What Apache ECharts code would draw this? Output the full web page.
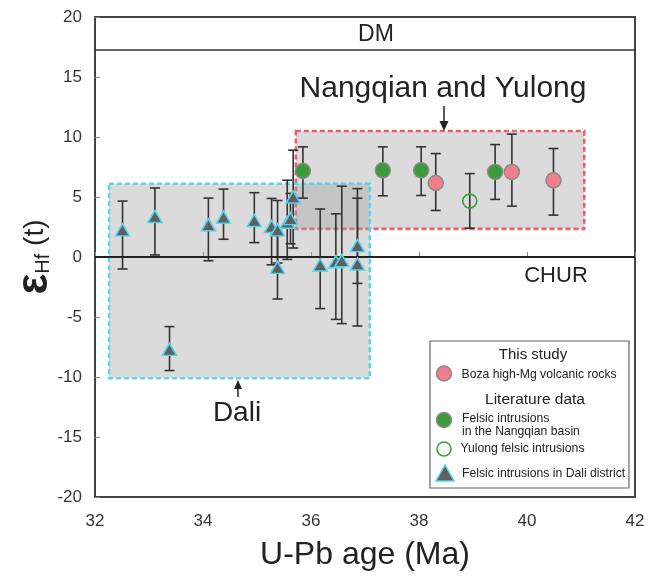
<!DOCTYPE html>
<html>
<head>
<meta charset="utf-8">
<script src="https://cdn.jsdelivr.net/npm/echarts@6/dist/echarts.min.js"></script>
<style>
  html, body { margin: 0; padding: 0; background: #fff; }
  #chart { width: 650px; height: 583px; }
</style>
</head>
<body>
<div id="chart"></div>
<script>
// Felsic intrusions in Dali district: age (Ma), εHf(t), lower and upper error limits
const daliAge = [32.51, 33.11, 33.38, 34.10, 34.38, 34.95, 35.27, 35.38, 35.38, 35.56, 35.62, 35.67, 36.17, 36.46, 36.57, 36.86, 36.86];
const daliEps = [2.26, 3.37, -7.7, 2.68, 3.32, 3.04, 2.54, 2.26, -0.86, 2.9, 3.2, 5.0, -0.67, -0.4, -0.3, 0.95, -0.58];
const daliLo  = [-1.0, 0.17, -9.46, -0.31, 1.48, 1.2, -0.65, -0.5, -3.5, -0.2, 1.1, 0.75, -4.3, -5.2, -5.55, -2.2, -5.75];
const daliHi  = [4.66, 5.75, -5.8, 4.91, 5.66, 5.36, 4.88, 4.71, 1.8, 6.4, 5.3, 8.9, 4.0, 3.6, 5.9, 4.9, 5.7];

// Felsic intrusions in the Nangqian basin
const nqAge = [35.85, 37.33, 38.04, 39.41];
const nqEps = [7.17, 7.22, 7.22, 7.09];
const nqLo  = [4.91, 5.1, 5.13, 4.8];
const nqHi  = [9.18, 9.18, 9.18, 9.37];

// Yulong felsic intrusions
const ylAge = [38.94];
const ylEps = [4.66];
const ylLo  = [2.4];
const ylHi  = [6.95];

// Boza high-Mg volcanic rocks (this study)
const bzAge = [38.31, 39.72, 40.49];
const bzEps = [6.17, 7.09, 6.39];
const bzLo  = [3.88, 4.24, 3.49];
const bzHi  = [8.62, 10.24, 9.04];

// Field outlines [ageMin, ageMax, epsMin, epsMax]
const fieldNangqianYulong = [35.72, 41.06, 2.34, 10.5];
const fieldDali = [32.26, 37.09, -10.1, 6.1];

// Reference lines
const dmLevel = 17.3;
const churLevel = 0;

// Axis ticks
const xTicks = [32, 34, 36, 38, 40, 42];
const yTicks = [-20, -15, -10, -5, 0, 5, 10, 15, 20];

const FONT = '"Liberation Sans", Arial, sans-serif';

const zip = (a, b) => a.map((v, i) => [v, b[i]]);
const zipErr = (a, lo, hi) => a.map((v, i) => [v, lo[i], hi[i]]);

function errorBars(name, ages, lo, hi) {
  return {
    type: 'custom',
    name: name + ' error',
    silent: true,
    z: 4,
    data: zipErr(ages, lo, hi),
    renderItem: function (params, api) {
      const x = api.value(0);
      const top = api.coord([x, api.value(2)]);
      const bot = api.coord([x, api.value(1)]);
      const cap = 5;
      const st = { stroke: '#333', lineWidth: 1.6 };
      return {
        type: 'group',
        children: [
          { type: 'line', shape: { x1: top[0], y1: top[1], x2: bot[0], y2: bot[1] }, style: st },
          { type: 'line', shape: { x1: top[0] - cap, y1: top[1], x2: top[0] + cap, y2: top[1] }, style: st },
          { type: 'line', shape: { x1: bot[0] - cap, y1: bot[1], x2: bot[0] + cap, y2: bot[1] }, style: st }
        ]
      };
    }
  };
}

function field(box, stroke, dash, z) {
  return {
    type: 'custom',
    silent: true,
    z: z,
    data: [box],
    renderItem: function (params, api) {
      const p0 = api.coord([api.value(0), api.value(3)]);
      const p1 = api.coord([api.value(1), api.value(2)]);
      return {
        type: 'rect',
        shape: { x: p0[0], y: p0[1], width: p1[0] - p0[0], height: p1[1] - p0[1] },
        style: { fill: 'rgba(160,160,160,0.38)', stroke: stroke, lineWidth: 2.6, lineDash: dash }
      };
    }
  };
}

const chart = echarts.init(document.getElementById('chart'), null, { renderer: 'canvas' });

const option = {
  backgroundColor: '#ffffff',
  animation: false,
  grid: {
    left: 95, right: 15, top: 17, bottom: 86,
    containLabel: false, outerBoundsMode: 'none',
    show: true, borderColor: '#444', borderWidth: 2, backgroundColor: 'transparent'
  },
  xAxis: {
    type: 'value',
    min: xTicks[0], max: xTicks[xTicks.length - 1], interval: 2,
    name: 'U-Pb age (Ma)',
    nameLocation: 'middle', nameGap: 42,
    nameTextStyle: { fontFamily: FONT, fontSize: 32, color: '#222' },
    axisLine: { lineStyle: { color: '#444', width: 2 } },
    axisTick: { inside: true, length: 5, lineStyle: { color: '#888' } },
    axisLabel: { fontFamily: FONT, fontSize: 17, color: '#333', margin: 16 },
    splitLine: { show: false }
  },
  yAxis: {
    type: 'value',
    min: yTicks[0], max: yTicks[yTicks.length - 1], interval: 5,
    name: '{e|ε}{s|Hf}{t| (t)}',
    nameLocation: 'middle', nameGap: 38, nameRotate: 90, nameMoveOverlap: false,
    nameTextStyle: {
      fontFamily: FONT, color: '#222',
      rich: {
        e: { fontFamily: FONT, fontSize: 44, fontWeight: 'bold', color: '#222' },
        s: { fontFamily: FONT, fontSize: 20, color: '#222', padding: [16, 0, 0, 0] },
        t: { fontFamily: FONT, fontSize: 28, color: '#222' }
      }
    },
    axisLine: { lineStyle: { color: '#444', width: 2 } },
    axisTick: { inside: true, length: 5, lineStyle: { color: '#888' } },
    axisLabel: { fontFamily: FONT, fontSize: 17, color: '#333', margin: 13 },
    splitLine: { show: false }
  },
  series: [
    field(fieldNangqianYulong, '#ef5f6a', [5, 3], 1),
    field(fieldDali, '#55d7f2', [5, 3], 2),
    {
      type: 'line',
      data: [],
      silent: true,
      z: 3,
      markLine: {
        silent: true,
        symbol: 'none',
        label: { show: false },
        lineStyle: { type: 'solid', color: '#222', width: 1.8 },
        data: [{ yAxis: churLevel }, { yAxis: dmLevel, lineStyle: { color: '#333', width: 1.6 } }]
      }
    },
    errorBars('dali', daliAge, daliLo, daliHi),
    errorBars('nq', nqAge, nqLo, nqHi),
    errorBars('yl', ylAge, ylLo, ylHi),
    errorBars('bz', bzAge, bzLo, bzHi),
    {
      type: 'scatter', name: 'Felsic intrusions in Dali district', z: 5,
      data: zip(daliAge, daliEps),
      symbol: 'triangle', symbolSize: [14, 12],
      itemStyle: { color: '#5f5f5f', borderColor: '#4fd4ee', borderWidth: 1.5, opacity: 1 }
    },
    {
      type: 'scatter', name: 'Felsic intrusions in the Nangqian basin', z: 5,
      data: zip(nqAge, nqEps),
      symbol: 'circle', symbolSize: 15,
      itemStyle: { color: '#3a9b3a', borderColor: '#8a8a8a', borderWidth: 1.5, opacity: 1 }
    },
    {
      type: 'scatter', name: 'Yulong felsic intrusions', z: 5,
      data: zip(ylAge, ylEps),
      symbol: 'circle', symbolSize: 14,
      itemStyle: { color: 'rgba(0,0,0,0)', borderColor: '#36a336', borderWidth: 1.6, opacity: 1 }
    },
    {
      type: 'scatter', name: 'Boza high-Mg volcanic rocks', z: 6,
      data: zip(bzAge, bzEps),
      symbol: 'circle', symbolSize: 15,
      itemStyle: { color: '#f07e8b', borderColor: '#8a8a8a', borderWidth: 1.5, opacity: 1 }
    }
  ],
  graphic: [
    // field labels
    { type: 'text', x: 376, y: 35, z: 10, style: { text: 'DM', font: '23px ' + FONT, fill: '#222', align: 'center', verticalAlign: 'middle' } },
    { type: 'text', x: 443, y: 89, z: 10, style: { text: 'Nangqian and Yulong', font: '30px ' + FONT, fill: '#222', align: 'center', verticalAlign: 'middle' } },
    { type: 'line', z: 10, shape: { x1: 444, y1: 106, x2: 444, y2: 122 }, style: { stroke: '#222', lineWidth: 1.5 } },
    { type: 'polygon', z: 10, shape: { points: [[439.5, 121], [448.5, 121], [444, 131]] }, style: { fill: '#222' } },
    { type: 'text', x: 237, y: 413, z: 10, style: { text: 'Dali', font: '28px ' + FONT, fill: '#222', align: 'center', verticalAlign: 'middle' } },
    { type: 'line', z: 10, shape: { x1: 238, y1: 397, x2: 238, y2: 387 }, style: { stroke: '#222', lineWidth: 1.5 } },
    { type: 'polygon', z: 10, shape: { points: [[234, 389], [242, 389], [238, 380]] }, style: { fill: '#222' } },
    { type: 'text', x: 556, y: 276, z: 10, style: { text: 'CHUR', font: '22px ' + FONT, fill: '#222', align: 'center', verticalAlign: 'middle' } },

    // legend panel
    { type: 'rect', z: 20, shape: { x: 430, y: 341, width: 199, height: 147 }, style: { fill: '#fff', stroke: '#666', lineWidth: 1.2 } },
    { type: 'text', z: 21, x: 533, y: 355, style: { text: 'This study', font: '15px ' + FONT, fill: '#222', align: 'center', verticalAlign: 'middle' } },
    { type: 'circle', z: 21, shape: { cx: 444, cy: 373.5, r: 7.5 }, style: { fill: '#f07e8b', stroke: '#8a8a8a', lineWidth: 1.5 } },
    { type: 'text', z: 21, x: 461.5, y: 374.5, style: { text: 'Boza high-Mg volcanic rocks', font: '12.2px ' + FONT, fill: '#222', verticalAlign: 'middle' } },
    { type: 'text', z: 21, x: 535, y: 399.5, style: { text: 'Literature data', font: '15.5px ' + FONT, fill: '#222', align: 'center', verticalAlign: 'middle' } },
    { type: 'circle', z: 21, shape: { cx: 444, cy: 420, r: 7.5 }, style: { fill: '#3a9b3a', stroke: '#8a8a8a', lineWidth: 1.5 } },
    { type: 'text', z: 21, x: 462, y: 419, style: { text: 'Felsic intrusions', font: '12.2px ' + FONT, fill: '#222', verticalAlign: 'middle' } },
    { type: 'text', z: 21, x: 462, y: 432, style: { text: 'in the Nangqian basin', font: '12.2px ' + FONT, fill: '#222', verticalAlign: 'middle' } },
    { type: 'circle', z: 21, shape: { cx: 444, cy: 449, r: 7 }, style: { fill: '#fff', stroke: '#36a336', lineWidth: 1.6 } },
    { type: 'text', z: 21, x: 460.5, y: 449, style: { text: 'Yulong felsic intrusions', font: '12.2px ' + FONT, fill: '#222', verticalAlign: 'middle' } },
    { type: 'polygon', z: 21, shape: { points: [[436, 481], [454, 481], [445, 465]] }, style: { fill: '#5f5f5f', stroke: '#4fd4ee', lineWidth: 1.5 } },
    { type: 'text', z: 21, x: 462, y: 474, style: { text: 'Felsic intrusions in Dali district', font: '12.2px ' + FONT, fill: '#222', verticalAlign: 'middle' } }
  ]
};

chart.setOption(option);
</script>
</body>
</html>
